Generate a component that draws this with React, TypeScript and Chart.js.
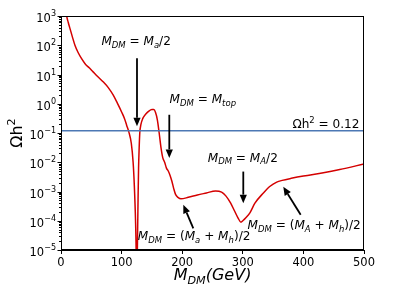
import React, { useEffect, useRef } from "react";
import { Chart, registerables } from "chart.js";

Chart.register(...registerables);

// Relic density curve (M_DM in GeV, Omega h^2 as log10)
const massGeV = [
  5, 9.4, 12, 15, 19, 23, 28, 34, 40, 47, 53, 60, 70, 78, 86, 93, 100, 105, 108.4, 112, 116, 119,
  121, 123, 124, 125, 126, 127, 128, 129, 130, 132, 135, 140, 145, 150, 153, 156, 159, 162, 165,
  168, 171, 174, 177, 180, 183, 186, 189, 193, 198, 210, 225, 240, 255, 265, 272, 280, 286, 292,
  297, 300, 305, 312, 320, 334, 345, 356, 365, 380, 400, 433, 460, 500,
];
const log10Omega = [
  3.9, 3.0, 2.78, 2.56, 2.27, 2.0, 1.76, 1.54, 1.36, 1.22, 1.09, 0.94, 0.74, 0.55, 0.3, 0.02, -0.28,
  -0.52, -0.74, -0.97, -1.35, -2.0, -2.8, -4.0, -5.0, -7.0, -5.0, -3.5, -2.2, -1.5, -1.0, -0.7,
  -0.5, -0.35, -0.25, -0.2, -0.2, -0.3, -0.55, -1.0, -1.5, -1.85, -2.0, -2.2, -2.3, -2.45, -2.65,
  -2.9, -3.1, -3.2, -3.25, -3.2, -3.12, -3.05, -2.98, -3.02, -3.15, -3.4, -3.65, -3.9, -4.05, -4.0,
  -3.9, -3.72, -3.4, -3.05, -2.82, -2.68, -2.62, -2.55, -2.47, -2.36, -2.25, -2.06,
];
const omegaObserved = 0.12;
const xRange = [0, 500];
const yRange = [1e-5, 1e3];
const xTickValues = [0, 100, 200, 300, 400, 500];
const yTickExponents = [-5, -4, -3, -2, -1, 0, 1, 2, 3];

type Seg = [string, string]; // text, kind: i=italic, r=roman, si=sub italic, up=superscript
const annotations: { segs: Seg[]; x: number; y: number; align: string }[] = [
  { segs: [["M", "i"], ["DM", "si"], [" = ", "r"], ["M", "i"], ["a", "si"], ["/2", "r"]], x: 124, y: 100, align: "center" },
  { segs: [["M", "i"], ["DM", "si"], [" = ", "r"], ["M", "i"], ["top", "si"]], x: 234, y: 1.07, align: "center" },
  { segs: [["M", "i"], ["DM", "si"], [" = ", "r"], ["M", "i"], ["A", "si"], ["/2", "r"]], x: 300, y: 0.0105, align: "center" },
  { segs: [["M", "i"], ["DM", "si"], [" = (", "r"], ["M", "i"], ["a", "si"], [" + ", "r"], ["M", "i"], ["h", "si"], [")/2", "r"]], x: 219.7, y: 2.2e-5, align: "center" },
  { segs: [["M", "i"], ["DM", "si"], [" = (", "r"], ["M", "i"], ["A", "si"], [" + ", "r"], ["M", "i"], ["h", "si"], [")/2", "r"]], x: 401.3, y: 5.1e-5, align: "center" },
  { segs: [["Ωh", "r"], ["2", "up"], [" = 0.12", "r"]], x: 492.5, y: 0.145, align: "right" },
];
const arrows: { from: [number, number]; to: [number, number] }[] = [
  { from: [125.4, 36], to: [125.4, 0.17] },
  { from: [178.7, 0.42], to: [178.7, 0.0141] },
  { from: [300.8, 0.0048], to: [300.8, 0.0004] },
  { from: [218.3, 5.5e-5], to: [201.8, 3.5e-4] },
  { from: [395.5, 1.6e-4], to: [366.8, 1.45e-3] },
];

const FONT = "'DejaVu Sans'";

function segFont(kind: string, fs: number) {
  if (kind === "i") return `italic ${fs}px ${FONT}`;
  if (kind === "si") return `italic ${(fs * 0.7).toFixed(2)}px ${FONT}`;
  if (kind === "up" || kind === "sr") return `${(fs * 0.7).toFixed(2)}px ${FONT}`;
  return `${fs}px ${FONT}`;
}

function drawMath(ctx: CanvasRenderingContext2D, segs: Seg[], x: number, y: number, fs: number, align: string) {
  let w = 0;
  const widths: number[] = [];
  for (const [t, k] of segs) {
    ctx.font = segFont(k, fs);
    const m = ctx.measureText(t).width;
    widths.push(m);
    w += m;
  }
  let cx = align === "center" ? x - w / 2 : align === "right" ? x - w : x;
  ctx.textBaseline = "alphabetic";
  ctx.textAlign = "left";
  segs.forEach(([t, k], i) => {
    ctx.font = segFont(k, fs);
    let dy = 0;
    if (k === "si" || k === "sr") dy = fs * 0.22;
    if (k === "up") dy = -fs * 0.42;
    ctx.fillText(t, cx, y + dy);
    cx += widths[i];
  });
  return w;
}

function drawArrow(ctx: CanvasRenderingContext2D, x1: number, y1: number, x2: number, y2: number) {
  const ang = Math.atan2(y2 - y1, x2 - x1);
  const headL = 8.5;
  const headW = 3.6;
  const bx = x2 - Math.cos(ang) * headL;
  const by = y2 - Math.sin(ang) * headL;
  ctx.strokeStyle = "#000";
  ctx.fillStyle = "#000";
  ctx.lineWidth = 1.8;
  ctx.beginPath();
  ctx.moveTo(x1, y1);
  ctx.lineTo(bx, by);
  ctx.stroke();
  ctx.beginPath();
  ctx.moveTo(x2, y2);
  ctx.lineTo(bx + Math.sin(ang) * headW, by - Math.cos(ang) * headW);
  ctx.lineTo(bx - Math.sin(ang) * headW, by + Math.cos(ang) * headW);
  ctx.closePath();
  ctx.fill();
}

const overlay = {
  id: "overlay",
  afterDraw(chart: any) {
    const ctx: CanvasRenderingContext2D = chart.ctx;
    const xs = chart.scales.x;
    const ys = chart.scales.y;
    const a = chart.chartArea;
    ctx.save();
    // frame
    ctx.strokeStyle = "#000";
    ctx.lineWidth = 1;
    ctx.strokeRect(a.left + 0.5, a.top + 0.5, a.right - a.left - 1, a.bottom - a.top - 1);
    // y ticks
    ctx.fillStyle = "#000";
    for (const e of yTickExponents) {
      const py = Math.round(ys.getPixelForValue(Math.pow(10, e))) + 0.5;
      ctx.beginPath();
      ctx.moveTo(a.left - 3.5, py);
      ctx.lineTo(a.left, py);
      ctx.stroke();
      if (e < 3) {
        for (let m = 2; m <= 9; m++) {
          const pm = Math.round(ys.getPixelForValue(m * Math.pow(10, e))) + 0.5;
          ctx.beginPath();
          ctx.moveTo(a.left - 2, pm);
          ctx.lineTo(a.left, pm);
          ctx.stroke();
        }
      }
      // label: 10^e
      const fs = 11.5;
      ctx.font = `${fs * 0.7}px ${FONT}`;
      const sup = e < 0 ? "\u2212" + Math.abs(e) : String(e);
      const sw = ctx.measureText(sup).width;
      ctx.font = `${fs}px ${FONT}`;
      const bw = ctx.measureText("10").width;
      const right = a.left - 5;
      const base = py + 5;
      ctx.textAlign = "left";
      ctx.textBaseline = "alphabetic";
      ctx.fillText("10", right - sw - bw, base);
      ctx.font = `${fs * 0.7}px ${FONT}`;
      ctx.fillText(sup, right - sw, base - fs * 0.45);
    }
    // axis titles
    drawMath(ctx, [["M", "i"], ["DM", "si"], ["(GeV)", "i"]], (a.left + a.right) / 2, 280, 16, "center");
    ctx.save();
    ctx.translate(22, (a.top + a.bottom) / 2);
    ctx.rotate(-Math.PI / 2);
    drawMath(ctx, [["Ωh", "r"], ["2", "up"]], 0, 0, 16, "center");
    ctx.restore();
    // annotations
    for (const an of annotations) {
      drawMath(ctx, an.segs, xs.getPixelForValue(an.x), ys.getPixelForValue(an.y), 12.1, an.align);
    }
    for (const ar of arrows) {
      drawArrow(
        ctx,
        xs.getPixelForValue(ar.from[0]),
        ys.getPixelForValue(ar.from[1]),
        xs.getPixelForValue(ar.to[0]),
        ys.getPixelForValue(ar.to[1])
      );
    }
    ctx.restore();
  },
};

export default function App() {
  const ref = useRef<HTMLCanvasElement | null>(null);
  useEffect(() => {
    if (!ref.current) return;
    const curve = massGeV.map((m, i) => ({ x: m, y: Math.pow(10, log10Omega[i]) }));
    const obs = xRange.map((x) => ({ x, y: omegaObserved }));
    const chart = new Chart(ref.current, {
      type: "line",
      data: {
        datasets: [
          { data: obs, borderColor: "#4c78b4", borderWidth: 1.5, pointRadius: 0, fill: false },
          {
            data: curve,
            borderColor: "#d40000",
            borderWidth: 1.5,
            pointRadius: 0,
            fill: false,
            cubicInterpolationMode: "monotone",
          },
        ],
      },
      options: {
        responsive: false,
        animation: false,
        events: [],
        layout: { padding: { left: 0, top: 16, right: 38, bottom: 0 } },
        plugins: { legend: { display: false }, tooltip: { enabled: false } },
        scales: {
          x: {
            type: "linear",
            min: xRange[0],
            max: xRange[1],
            afterBuildTicks: (s: any) => {
              s.ticks = xTickValues.map((v) => ({ value: v }));
            },
            afterFit: (s: any) => {
              s.height = 52;
            },
            ticks: { color: "#000", font: { family: "DejaVu Sans", size: 11.5 }, padding: 2, maxRotation: 0 },
            grid: { drawOnChartArea: false, drawTicks: true, tickLength: 4, color: "#000" },
            border: { display: true, color: "#000", width: 1 },
          },
          y: {
            type: "logarithmic",
            min: yRange[0],
            max: yRange[1],
            afterFit: (s: any) => {
              s.width = 61;
            },
            ticks: { display: false },
            grid: { display: false },
            border: { display: true, color: "#000", width: 1 },
          },
        },
      },
      plugins: [overlay],
    });
    return () => chart.destroy();
  }, []);
  return (
    <div style={{ position: "fixed", left: 0, top: 0, width: 402, height: 302, background: "#fff" }}>
      <canvas ref={ref} width={402} height={302} style={{ width: 402, height: 302 }} />
    </div>
  );
}
